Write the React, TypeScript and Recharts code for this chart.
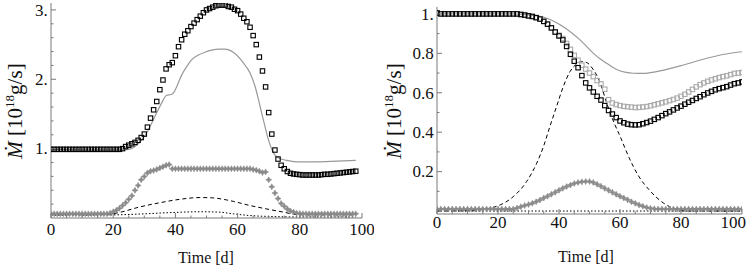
import React from 'react';
import { ComposedChart, Line, Scatter, XAxis, YAxis } from 'recharts';

const FONT = "'Liberation Serif', 'Times New Roman', 'DejaVu Serif', serif";
const AXIS = '#7a7a7a';
const TXT = { fontFamily: FONT };

// ---------------- Left panel data (one sample per day, 0..98) ----------------
const leftDays: number[] = Array.from({ length: 99 }, (_, i) => i);
const leftSquares = [
  0.99, 0.99, 0.99, 0.99, 0.99, 0.99, 0.99, 0.99, 0.99, 0.99,
  0.99, 0.99, 0.99, 0.99, 0.99, 0.99, 0.99, 0.99, 0.99, 0.99,
  0.99, 0.99, 0.99, 1.0, 1.03, 1.05, 1.07, 1.09, 1.12, 1.16,
  1.21, 1.31, 1.44, 1.56, 1.68, 1.85, 1.99, 2.15, 2.21, 2.24,
  2.34, 2.47, 2.57, 2.65, 2.7, 2.76, 2.81, 2.86, 2.91, 2.96,
  3.0, 3.02, 3.04, 3.06, 3.07, 3.07, 3.07, 3.05, 3.04, 3.01,
  2.99, 2.94, 2.88, 2.83, 2.75, 2.63, 2.5, 2.32, 2.12, 1.89,
  1.52, 1.21, 0.98, 0.85, 0.76, 0.71, 0.67, 0.645, 0.635, 0.63,
  0.625, 0.62, 0.62, 0.62, 0.62, 0.62, 0.62, 0.625, 0.63, 0.63,
  0.635, 0.64, 0.645, 0.65, 0.655, 0.66, 0.665, 0.67, 0.675,
];
const leftStars = [
  0.06, 0.06, 0.06, 0.06, 0.06, 0.06, 0.06, 0.06, 0.06, 0.06,
  0.06, 0.06, 0.06, 0.06, 0.06, 0.06, 0.06, 0.06, 0.06, 0.07,
  0.09, 0.11, 0.14, 0.18, 0.22, 0.27, 0.32, 0.4, 0.47, 0.55,
  0.6, 0.65, 0.675, 0.685, 0.7, 0.72, 0.74, 0.76, 0.77, 0.71,
  0.71, 0.71, 0.71, 0.71, 0.71, 0.71, 0.71, 0.71, 0.71, 0.71,
  0.71, 0.71, 0.71, 0.71, 0.71, 0.71, 0.71, 0.71, 0.71, 0.71,
  0.71, 0.71, 0.71, 0.71, 0.71, 0.7, 0.69, 0.675, 0.655, 0.665,
  0.55, 0.45, 0.36, 0.28, 0.21, 0.17, 0.13, 0.1, 0.085, 0.07,
  0.065, 0.06, 0.06, 0.06, 0.06, 0.06, 0.06, 0.06, 0.06, 0.06,
  0.06, 0.06, 0.06, 0.06, 0.06, 0.06, 0.06, 0.06, 0.06,
];
const leftSolidT = [0, 12, 22, 25, 27, 29, 30.8, 32.4, 34, 35.6, 37.2, 38.6, 39.5, 40.4, 42, 43.6, 45.2, 47.4, 49.5, 51.7, 54, 56, 58.6, 61.8, 64, 65.6, 66.7, 67.7, 68.8, 69.9, 71, 72.6, 75.8, 79, 85, 92, 98];
const leftSolidV = [0.99, 0.98, 0.98, 0.99, 1.03, 1.12, 1.23, 1.37, 1.52, 1.66, 1.77, 1.78, 1.81, 1.89, 2.06, 2.18, 2.28, 2.35, 2.39, 2.42, 2.435, 2.435, 2.39, 2.24, 2.09, 1.9, 1.71, 1.52, 1.32, 1.13, 0.99, 0.88, 0.83, 0.81, 0.81, 0.82, 0.83];
const leftDashedT = [0, 18, 22, 28.6, 35, 41.5, 47.9, 52, 56.5, 58.6, 64, 69.4, 74.7, 79, 83, 98];
const leftDashedV = [0.05, 0.05, 0.08, 0.16, 0.22, 0.27, 0.295, 0.29, 0.26, 0.24, 0.18, 0.13, 0.085, 0.05, 0.045, 0.045];
const leftDottedT = [0, 20, 30, 37, 48, 54, 58.6, 64, 72, 80, 98];
const leftDottedV = [0.04, 0.045, 0.06, 0.075, 0.09, 0.085, 0.06, 0.035, 0.02, 0.015, 0.015];

// ---------------- Right panel data (one sample every 1.25 d, 0..100) ----------------
const rightDays: number[] = Array.from({ length: 81 }, (_, i) => i * 1.25);
const rightBlackSquares = [
  1.005, 1.0, 1.0, 1.0, 1.0, 1.0, 1.0, 1.0, 1.0, 1.0,
  1.0, 1.0, 1.0, 1.0, 1.0, 1.0, 1.0, 1.0, 1.0, 1.0,
  1.0, 1.0, 0.997, 0.994, 0.99, 0.987, 0.981, 0.974, 0.962, 0.948,
  0.929, 0.908, 0.888, 0.868, 0.835, 0.795, 0.76, 0.727, 0.687, 0.65,
  0.625, 0.604, 0.582, 0.563, 0.535, 0.51, 0.492, 0.474, 0.457, 0.448,
  0.441, 0.438, 0.437, 0.438, 0.443, 0.449, 0.456, 0.465, 0.474, 0.484,
  0.494, 0.503, 0.513, 0.523, 0.532, 0.542, 0.552, 0.561, 0.571, 0.58,
  0.59, 0.599, 0.607, 0.615, 0.621, 0.626, 0.631, 0.639, 0.646, 0.65,
  0.655,
];
const rightGraySquares = [
  1.005, 1.0, 1.0, 1.0, 1.0, 1.0, 1.0, 1.0, 1.0, 1.0,
  1.0, 1.0, 1.0, 1.0, 1.0, 1.0, 1.0, 1.0, 1.0, 1.0,
  1.0, 1.0, 0.997, 0.994, 0.99, 0.987, 0.981, 0.974, 0.962, 0.948,
  0.929, 0.908, 0.892, 0.875, 0.85, 0.82, 0.79, 0.765, 0.74, 0.72,
  0.7, 0.682, 0.662, 0.645, 0.618, 0.565, 0.548, 0.54, 0.535, 0.531,
  0.529, 0.527, 0.525, 0.526, 0.528, 0.53, 0.534, 0.539, 0.544, 0.549,
  0.554, 0.56, 0.566, 0.573, 0.582, 0.592, 0.604, 0.617, 0.63, 0.641,
  0.65, 0.658, 0.665, 0.671, 0.677, 0.682, 0.686, 0.692, 0.698, 0.7,
  0.703,
];
const rightStars = [
  0.01, 0.01, 0.01, 0.01, 0.01, 0.01, 0.01, 0.01, 0.01, 0.01,
  0.01, 0.01, 0.01, 0.01, 0.01, 0.01, 0.01, 0.01, 0.01, 0.01,
  0.01, 0.015, 0.022, 0.028, 0.033, 0.039, 0.047, 0.056, 0.066, 0.075,
  0.085, 0.095, 0.105, 0.115, 0.124, 0.132, 0.14, 0.145, 0.148, 0.15,
  0.15, 0.145, 0.136, 0.126, 0.115, 0.105, 0.095, 0.085, 0.075, 0.066,
  0.057, 0.047, 0.039, 0.031, 0.024, 0.018, 0.014, 0.011, 0.01, 0.01,
  0.01, 0.01, 0.01, 0.01, 0.01, 0.01, 0.01, 0.01, 0.01, 0.01,
  0.01, 0.01, 0.01, 0.01, 0.01, 0.01, 0.01, 0.01, 0.01, 0.01,
  0.01,
];
const rightSolidT = [0, 25, 30, 33, 36, 41.4, 46.9, 51.3, 53.4, 55.6, 58.9, 62, 64.4, 67.6, 70, 73.1, 80.8, 88.4, 97.2, 100];
const rightSolidV = [1.0, 1.0, 0.995, 0.99, 0.978, 0.935, 0.868, 0.8, 0.772, 0.75, 0.718, 0.703, 0.699, 0.698, 0.702, 0.711, 0.741, 0.775, 0.803, 0.808];
const rightDashedT = [0, 10, 15, 17.4, 20.7, 25, 29.4, 32.7, 34.9, 37, 39.2, 41.4, 43.6, 45.8, 47.4, 49.1, 51.3, 53.4, 55.6, 58, 60, 63, 66, 70, 74.3, 78.7, 82, 100];
const rightDashedV = [0, 0.002, 0.008, 0.015, 0.031, 0.073, 0.15, 0.243, 0.327, 0.428, 0.53, 0.631, 0.707, 0.746, 0.758, 0.753, 0.716, 0.655, 0.55, 0.45, 0.38, 0.27, 0.18, 0.1, 0.04, 0.008, 0, 0];
const rightDottedT = [0, 100];
const rightDottedV = [0, 0];

// ---------------- Tick labels ----------------
const xTicks = [0, 5, 10, 15, 20, 25, 30, 35, 40, 45, 50, 55, 60, 65, 70, 75, 80, 85, 90, 95, 100];
const xMajor = [0, 20, 40, 60, 80, 100];
const xLabels = ['0', '20', '40', '60', '80', '100'];
const leftYTicks = [0.2, 0.4, 0.6, 0.8, 1, 1.2, 1.4, 1.6, 1.8, 2, 2.2, 2.4, 2.6, 2.8, 3];
const leftYMajor = [1, 2, 3];
const leftYLabels = ['1.', '2.', '3.'];
const rightYTicks = [0.1, 0.2, 0.3, 0.4, 0.5, 0.6, 0.7, 0.8, 0.9, 1.0];
const rightYMajor = [0.2, 0.4, 0.6, 0.8, 1.0];
const rightYLabels = ['0.2', '0.4', '0.6', '0.8', '1.'];

const pts = (ts: number[], vs: number[]) => ts.map((t, i) => ({ t, v: vs[i] }));
const majorIndex = (arr: number[], v: number) => arr.findIndex((a) => Math.abs(a - v) < 1e-6);

type Side = 'bottom' | 'top' | 'left' | 'right';
const makeTick = (side: Side, majors: number[], labels: string[] | null, labelOff: number, lastAnchorEnd = 0) => (p: any) => {
  const { x, y, payload } = p;
  const v = payload.value;
  const mi = majorIndex(majors, v);
  const len = mi >= 0 ? 5 : 2.5;
  let ln: any;
  if (side === 'bottom') ln = { x1: x, x2: x, y1: y, y2: y - len };
  else if (side === 'top') ln = { x1: x, x2: x, y1: y, y2: y + len };
  else if (side === 'left') ln = { x1: x, x2: x + len, y1: y, y2: y };
  else ln = { x1: x, x2: x - len, y1: y, y2: y };
  let label: any = null;
  if (labels && mi >= 0) {
    if (side === 'bottom') {
      const isLast = mi === labels.length - 1 && lastAnchorEnd > 0;
      label = (
        <text
          x={isLast ? x + lastAnchorEnd : x}
          y={y + labelOff}
          textAnchor={isLast ? 'end' : 'middle'}
          style={TXT}
          fontSize={17}
          fill="#111"
        >
          {labels[mi]}
        </text>
      );
    }
    if (side === 'left')
      label = (
        <text x={x - labelOff} y={y + 5.8} textAnchor="end" style={TXT} fontSize={17} fill="#111">
          {labels[mi]}
        </text>
      );
  }
  return (
    <g>
      <line {...ln} stroke={AXIS} strokeWidth={1} />
      {label}
    </g>
  );
};

const square = (color: string) => (p: any) =>
  p.cx == null ? <g /> : (
    <rect x={p.cx - 2.2} y={p.cy - 2.2} width={4.4} height={4.4} fill="none" stroke={color} strokeWidth={1.1} />
  );

const star = (p: any) => {
  if (p.cx == null) return <g />;
  const { cx, cy } = p;
  const d = `M${cx},${cy - 3}L${cx + 1},${cy - 1}L${cx + 3},${cy}L${cx + 1},${cy + 1}L${cx},${cy + 3}L${cx - 1},${cy + 1}L${cx - 3},${cy}L${cx - 1},${cy - 1}Z`;
  return <path d={d} fill="#8a8a8a" stroke="#8a8a8a" strokeWidth={0.6} />;
};

const yTitle = (bx: number, cy: number) => () => (
  <text transform={`translate(${bx},${cy}) rotate(-90)`} textAnchor="middle" style={TXT} fontSize={21} fill="#111">
    <tspan fontStyle="italic">Ṁ</tspan>
    <tspan> [10</tspan>
    <tspan dy={-8} fontSize={13}>18</tspan>
    <tspan dy={8}>g/s]</tspan>
  </text>
);

const xTitle = (cx: number, by: number) => () => (
  <text x={cx} y={by} textAnchor="middle" style={TXT} fontSize={16} fill="#111">
    Time [d]
  </text>
);

function Panel(props: {
  width: number;
  margin: any;
  yWidth: number;
  xHeight: number;
  yDomain: [number, number];
  yTicks: number[];
  yMajor: number[];
  yLabels: string[];
  xLabelOff: number;
  lastAnchorEnd: number;
  yTitlePos: [number, number];
  xTitlePos: [number, number];
  children: any;
}) {
  const p = props;
  return (
    <ComposedChart width={p.width} height={269} margin={p.margin} style={TXT}>
      <XAxis
        xAxisId="b"
        dataKey="t"
        type="number"
        domain={[0, 100]}
        allowDataOverflow
        ticks={xTicks}
        interval={0}
        height={p.xHeight}
        tickSize={0}
        tickMargin={0}
        tickLine={false}
        axisLine={{ stroke: AXIS }}
        tick={makeTick('bottom', xMajor, xLabels, p.xLabelOff, p.lastAnchorEnd)}
        label={xTitle(p.xTitlePos[0], p.xTitlePos[1])}
      />
      <XAxis
        xAxisId="top"
        orientation="top"
        dataKey="t"
        type="number"
        domain={[0, 100]}
        allowDataOverflow
        ticks={xTicks}
        interval={0}
        height={0}
        tickSize={0}
        tickMargin={0}
        tickLine={false}
        axisLine={{ stroke: '#555' }}
        tick={makeTick('top', xMajor, null, 0)}
      />
      <YAxis
        yAxisId="l"
        dataKey="v"
        type="number"
        domain={p.yDomain}
        allowDataOverflow
        ticks={p.yTicks}
        interval={0}
        width={p.yWidth}
        tickSize={0}
        tickMargin={0}
        tickLine={false}
        axisLine={{ stroke: AXIS }}
        tick={makeTick('left', p.yMajor, p.yLabels, 3.3)}
        label={yTitle(p.yTitlePos[0], p.yTitlePos[1])}
      />
      <YAxis
        yAxisId="r"
        orientation="right"
        dataKey="v"
        type="number"
        domain={p.yDomain}
        allowDataOverflow
        ticks={p.yTicks}
        interval={0}
        width={0}
        tickSize={0}
        tickMargin={0}
        tickLine={false}
        axisLine={{ stroke: AXIS }}
        tick={makeTick('right', p.yMajor, null, 0)}
      />
      {p.children}
    </ComposedChart>
  );
}

const lineProps = { xAxisId: 'b', yAxisId: 'l', dataKey: 'v', type: 'monotone' as const, dot: false, activeDot: false, isAnimationActive: false };
const scatterProps = { xAxisId: 'b', yAxisId: 'l', dataKey: 'v', isAnimationActive: false };

export default function App() {
  const lSq = leftSquares.map((v, i) => ({ t: leftDays[i], v }));
  const lSt = leftStars.map((v, i) => ({ t: leftDays[i], v }));
  const rBl = rightBlackSquares.map((v, i) => ({ t: rightDays[i], v }));
  const rGr = rightGraySquares.map((v, i) => ({ t: rightDays[i], v }));
  const rSt = rightStars.map((v, i) => ({ t: rightDays[i], v }));
  return (
    <div style={{ position: 'absolute', left: 0, top: 0, width: 747, height: 269, background: '#fff', overflow: 'hidden', fontFamily: FONT }}>
      <div style={{ position: 'absolute', left: 0, top: 0 }}>
        <Panel
          width={374}
          margin={{ top: 3, right: 12, bottom: 0, left: 0 }}
          yWidth={51}
          xHeight={51}
          yDomain={[0, 3.1]}
          yTicks={leftYTicks}
          yMajor={leftYMajor}
          yLabels={leftYLabels}
          xLabelOff={17}
          lastAnchorEnd={0}
          yTitlePos={[22, 111]}
          xTitlePos={[206, 263]}
        >
          <Line {...lineProps} data={pts(leftDottedT, leftDottedV)} stroke="#000" strokeWidth={1} strokeDasharray="1.5 2" />
          <Line {...lineProps} data={pts(leftDashedT, leftDashedV)} stroke="#000" strokeWidth={1} strokeDasharray="4 3" />
          <Line {...lineProps} data={pts(leftSolidT, leftSolidV)} stroke="#999" strokeWidth={1.2} />
          <Scatter {...scatterProps} data={lSt} shape={star} />
          <Scatter {...scatterProps} data={lSq} shape={square('#000')} />
        </Panel>
      </div>
      <div style={{ position: 'absolute', left: 374, top: 0 }}>
        <Panel
          width={373}
          margin={{ top: 7, right: 5, bottom: 0, left: 0 }}
          yWidth={63}
          xHeight={55}
          yDomain={[-0.015, 1.035]}
          yTicks={rightYTicks}
          yMajor={rightYMajor}
          yLabels={rightYLabels}
          xLabelOff={13.5}
          lastAnchorEnd={4}
          yTitlePos={[27, 111]}
          xTitlePos={[212, 262]}
        >
          <Line {...lineProps} data={pts(rightDottedT, rightDottedV)} stroke="#000" strokeWidth={1} strokeDasharray="1.5 2" />
          <Line {...lineProps} data={pts(rightSolidT, rightSolidV)} stroke="#999" strokeWidth={1.2} />
          <Scatter {...scatterProps} data={rSt} shape={star} />
          <Scatter {...scatterProps} data={rGr} shape={square('#aaa')} />
          <Scatter {...scatterProps} data={rBl} shape={square('#000')} />
          <Line {...lineProps} data={pts(rightDashedT, rightDashedV)} stroke="#000" strokeWidth={1} strokeDasharray="4 3" />
        </Panel>
      </div>
    </div>
  );
}
